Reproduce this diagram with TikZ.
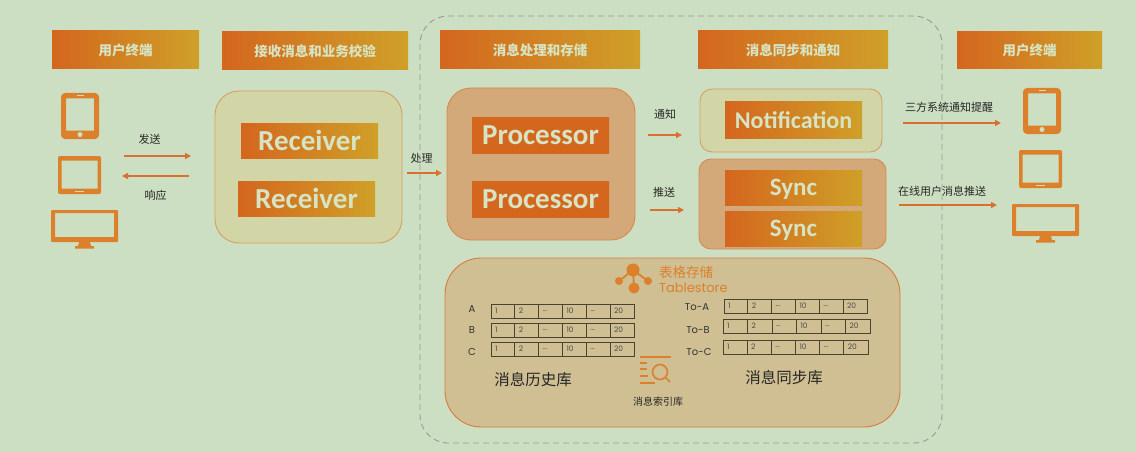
\documentclass[tikz,border=0pt]{standalone}
\usepackage{fontspec}
\setmainfont{Noto Sans CJK SC}
\newfontfamily\latinfont{Carlito}
\newfontfamily\roundfont{Poppins}
\usetikzlibrary{arrows.meta, positioning, calc}
\definecolor{pagebg}{HTML}{CDDFC2}
\definecolor{barleft}{HTML}{D4661E}
\definecolor{barright}{HTML}{CFA028}
\definecolor{iconorange}{HTML}{DD802C}
\definecolor{linkorange}{HTML}{D9702F}
\definecolor{palebox}{HTML}{D2D6A6}
\definecolor{darkbox}{HTML}{D3A97A}
\definecolor{storebox}{HTML}{CFBF92}
\definecolor{cellline}{HTML}{4A4233}
\definecolor{whitetext}{HTML}{D6E4C4}

\newcommand{\celldots}{...}

% one row of the table store
\newcommand{\cellrow}[4]{%
  \node (#1) [cellbox, minimum width=#4, anchor=north west] at (#2,#3) {};
  \foreach \lab [count=\i from 0] in {1,2,\celldots,10,\celldots,20} {
    \node [celltext, anchor=west] at ($(#1.west)+(\i*#4/6+4,0)$) {\lab};
    \ifnum\i>0
      \draw [cellline, line width=1pt] ($(#1.north west)+(\i*#4/6,0)$) -- ($(#1.south west)+(\i*#4/6,0)$);
    \fi
  }
}

% tablet, laptop and screen icons, given their top-left corner
\newcommand{\phoneicon}[2]{%
  \fill [iconorange, rounded corners=4pt, even odd rule] (#1,#2) rectangle ++(38,46)
    [sharp corners] (#1+5,#2+5.5) rectangle ++(28,32);
  \fill [pagebg] (#1+19,#2+41.5) circle (2.5);
  \fill [pagebg] (#1+16,#2+2) rectangle ++(7,1);
}
\newcommand{\padicon}[2]{%
  \fill [iconorange, rounded corners=2pt, even odd rule] (#1,#2) rectangle ++(43,38)
    [sharp corners] (#1+3.5,#2+4.5) rectangle ++(36,28);
  \fill [pagebg] (#1+17,#2+34.5) rectangle ++(9,1);
}
\newcommand{\screenicon}[2]{%
  \fill [iconorange, rounded corners=1pt, even odd rule] (#1,#2) rectangle ++(67,32)
    [sharp corners] (#1+4,#2+3) rectangle ++(59,24);
  \fill [iconorange] (#1+28,#2+32) -- (#1+39,#2+32) -- (#1+40,#2+36) -- (#1+43,#2+36)
    -- (#1+43,#2+38.5) -- (#1+24,#2+38.5) -- (#1+24,#2+36) -- (#1+27,#2+36) -- cycle;
}

\begin{document}
\begin{tikzpicture}[
    x=1pt, y=-1pt,
    every node/.style={inner sep=0pt, outer sep=0pt},
    headbar/.style={rectangle, left color=barleft, right color=barright, text=whitetext, font=\bfseries\fontsize{13.5}{13.5}\selectfont, anchor=north west},
    workbar/.style={rectangle, left color=barleft, right color=barright, text=whitetext, font=\latinfont\bfseries\fontsize{29}{29}\selectfont, anchor=north west},
    procbar/.style={workbar, fill=barleft, left color=barleft, right color=barleft},
    syncbar/.style={workbar, font=\latinfont\bfseries\fontsize{25}{25}\selectfont, text height=18pt, text depth=3pt, minimum width=137pt, minimum height=35pt},
    groupbox/.style={rectangle, rounded corners=24pt, draw=linkorange!55!#1, fill=#1, line width=0.9pt, anchor=north west},
    linklabel/.style={text=black!85, font=\fontsize{11}{11}\selectfont},
    link/.style={-{Triangle[length=6pt,width=6pt]}, linkorange, line width=2pt},
    cellbox/.style={rectangle, draw=cellline, line width=1pt, minimum height=14pt},
    celltext/.style={text=black!70, font=\roundfont\fontsize{7.5}{7.5}\selectfont},
    rowname/.style={text=black!80, font=\roundfont\fontsize{10}{10}\selectfont},
    dbname/.style={text=black!85, font=\fontsize{15.5}{15.5}\selectfont}
]
\useasboundingbox (0,0) rectangle (1136,452);
\fill [pagebg] (0,0) rectangle (1136,452);

% dashed frame round the middle part
\node (frame) [rectangle, rounded corners=28pt, draw=black!40, dash pattern=on 6pt off 4pt, line width=0.9pt, minimum width=522pt, minimum height=427pt, anchor=north west] at (420,16) {};

% column headers
\node (userhead) [headbar, minimum width=147pt, minimum height=38pt] at (52,31) {用户终端};
\node (recvhead) [headbar, minimum width=186pt, minimum height=38pt] at (222,32) {接收消息和业务校验};
\node (prochead) [headbar, minimum width=200pt, minimum height=38pt] at (440,31) {消息处理和存储};
\node (synchead) [headbar, minimum width=190pt, minimum height=38pt] at (698,31) {消息同步和通知};
\node (termhead) [headbar, minimum width=145pt, minimum height=37pt] at (957,32) {用户终端};

% group boxes
\node (recvgroup) [groupbox=palebox, minimum width=187pt, minimum height=152pt] at (215,91) {};
\node (procgroup) [groupbox=darkbox, minimum width=188pt, minimum height=152pt] at (447,88) {};
\node (notigroup) [groupbox=palebox, rounded corners=12pt, minimum width=182pt, minimum height=63pt] at (700,89) {};
\node (syncgroup) [groupbox=darkbox, rounded corners=12pt, minimum width=187pt, minimum height=90pt] at (699,159) {};
\node (storegroup) [groupbox=storebox, rounded corners=36pt, draw=linkorange!85!storebox, minimum width=455pt, minimum height=169pt] at (445,258) {};

% workers
\node (recvA) [workbar, minimum width=137pt, minimum height=35pt] at (241,123) {Receiver};
\node (recvB) [workbar, minimum width=137pt, minimum height=35pt] at (238,181) {Receiver};
\node (procA) [procbar, minimum width=137pt, minimum height=36pt] at (472,117) {Processor};
\node (procB) [procbar, minimum width=137pt, minimum height=36pt] at (472,181) {Processor};
\node (notify) [workbar, font=\latinfont\bfseries\fontsize{24}{24}\selectfont, minimum width=137pt, minimum height=36pt] at (725,102) {Notification};
\node (syncA) [syncbar] at (725,170) {Sync};
\node (syncB) [syncbar] at (725,211) {Sync};

% devices
\phoneicon{61}{93}
\padicon{58}{156}
\screenicon{51}{210}
\phoneicon{1023}{88}
\padicon{1019}{150}
\screenicon{1012}{204}

% anchors for the arrows
\coordinate (sendA) at (124,156);
\coordinate (sendB) at (191,156);
\coordinate (respA) at (189,176);
\coordinate (respB) at (122,176);
\coordinate (handA) at (407,173);
\coordinate (handB) at (442,173);
\coordinate (noteA) at (648,135);
\coordinate (noteB) at (682,135);
\coordinate (pushA) at (650,210);
\coordinate (pushB) at (684,210);
\coordinate (thirdA) at (903,123);
\coordinate (thirdB) at (1001,123);
\coordinate (onlineA) at (899,205);
\coordinate (onlineB) at (997,205);

\draw [link] (sendA) -- node[linklabel, above=12pt, xshift=-8pt] {发送} (sendB);
\draw [link] (respA) -- node[linklabel, below=14pt] {响应} (respB);
\draw [link] (handA) -- node[linklabel, above=10pt, xshift=-3pt] {处理} (handB);
\draw [link] (noteA) -- node[linklabel, above=16pt] {通知} (noteB);
\draw [link] (pushA) -- node[linklabel, above=13pt, xshift=-3pt] {推送} (pushB);
\draw [link] (thirdA) -- node[linklabel, above=11pt, xshift=-3pt] {三方系统通知提醒} (thirdB);
\draw [link] (onlineA) -- node[linklabel, above=9pt, xshift=-6pt] {在线用户消息推送} (onlineB);

% table store logo
\fill [iconorange] (633,270) circle (6.5) (619,281) circle (4) (648,281) circle (4) (634,288) circle (5.5);
\draw [iconorange, line width=1.8pt] (619,281) -- (633,270) -- (648,281) (633,270) -- (634,288);
\node (storecn) [text=iconorange, font=\fontsize{13.5}{13.5}\selectfont, anchor=west] at (659,272) {表格存储};
\node (storeen) [text=iconorange, font=\roundfont\fontsize{13}{13}\selectfont, anchor=west] at (659,288) {Tablestore};

% history rows
\node (nameA) [rowname] at (472,309) {A};
\node (nameB) [rowname] at (472,330) {B};
\node (nameC) [rowname] at (472,352) {C};
\cellrow{histA}{491}{304}{143}
\cellrow{histB}{491}{323}{143}
\cellrow{histC}{491}{342}{143}

% sync rows
\node (nameToA) [rowname] at (697,307) {To-A};
\node (nameToB) [rowname] at (698,330) {To-B};
\node (nameToC) [rowname] at (699,352) {To-C};
\cellrow{syncrowA}{724}{299}{143}
\cellrow{syncrowB}{723}{319}{147}
\cellrow{syncrowC}{723}{340}{145}

% index icon
\draw [iconorange, line width=1.3pt] (640,357) -- (671,357) (640,363) -- (647,363) (640,369) -- (647,369) (640,376) -- (648,376) (640,383) -- (655,383);
\draw [iconorange, line width=1.6pt] (660,372) circle (7.5) (665.5,377.5) -- (670,382);

\node (histname) [dbname] at (533,380) {消息历史库};
\node (syncname) [dbname] at (784,378) {消息同步库};
\node (indexname) [text=black!85, font=\fontsize{10}{10}\selectfont] at (658,402) {消息索引库};
\end{tikzpicture}
\end{document}
